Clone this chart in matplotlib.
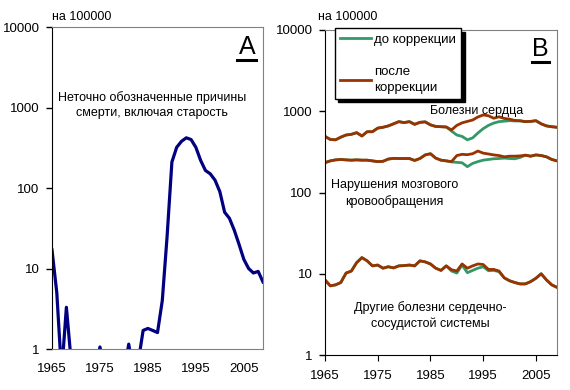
import numpy as np
import matplotlib
matplotlib.use('Agg')
from matplotlib import pyplot as plt
from matplotlib.lines import Line2D

plt.rcParams['font.family'] = ['Liberation Sans', 'DejaVu Sans']
plt.rcParams['font.size'] = 9

years = list(range(1965, 2010))

#Panel A - ill-defined causes incl. old age (values below 1 are off the axis)
ill_defined = [17, 5, 0.5, 3.3, 0.7, 0.5, 0.5, 0.5, 0.5, 0.5,
               1.06, 0.5, 0.5, 0.5, 0.5, 0.5, 1.15, 0.5, 0.7, 1.7,
               1.8, 1.7, 1.6, 4, 25, 210, 320, 380, 420, 400,
               320, 220, 165, 150, 125, 90, 50, 42, 30, 20,
               13, 10, 8.8, 9.2, 6.8]

#Panel B - before / after correction
heart_after = [490, 450, 445, 480, 510, 520, 545, 496, 560, 560,
               620, 635, 660, 700, 745, 725, 745, 690, 730, 740,
               680, 650, 645, 640, 590, 670, 720, 750, 780, 850,
               900, 880, 820, 855, 815, 800, 770, 765, 745, 750,
               765, 700, 660, 645, 635]
heart_before = heart_after[:24] + [570, 510, 490, 445, 470, 540,
               610, 670, 715, 745, 755, 765, 760, 760] + heart_after[38:]

stroke_after = [233, 245, 252, 255, 252, 250, 252, 250, 250, 245,
                240, 242, 258, 263, 262, 262, 262, 248, 262, 290,
                300, 265, 250, 245, 240, 285, 295, 292, 300, 324,
                305, 298, 290, 285, 275, 280, 280, 282, 288, 280,
                290, 285, 275, 255, 245]
stroke_before = stroke_after[:24] + [238, 235, 232, 208, 228, 240,
                250, 255, 260, 262, 265, 262, 260, 270] + stroke_after[38:]

other_after = [8.4, 7.1, 7.3, 7.8, 10.2, 10.8, 13.7, 15.8, 14.4, 12.5,
               12.8, 11.7, 12.2, 11.8, 12.5, 12.6, 12.8, 12.5, 14.4, 14.0,
               13.2, 11.7, 11.0, 12.5, 11.2, 10.8, 13.2, 11.7, 12.5, 13.2,
               13.0, 11.3, 11.3, 10.8, 8.9, 8.2, 7.8, 7.5, 7.5, 8.0,
               8.8, 10.0, 8.4, 7.3, 6.8]
other_before = other_after[:24] + [10.8, 10.2, 12.8, 10.3, 11.0, 11.7,
               12.2, 10.9, 11.0, 10.6] + other_after[34:]

yticks = [1, 10, 100, 1000, 10000]
ytick_labels = ['1', '10', '100', '1000', '10000']
xticks = [1965, 1975, 1985, 1995, 2005]

green = '#339966'
brown = '#993300'
navy = '#000080'

fig = plt.figure(figsize=(5.7, 3.9), dpi=100)
axA = fig.add_axes([52/570, 41/390, 211/570, 322/390])
axB = fig.add_axes([325/570, 35/390, 232/570, 325/390])

for ax in (axA, axB):
    ax.set_yscale('log')
    ax.set_ylim(1, 10000)
    ax.set_xlim(1965, 2009)
    ax.set_yticks(yticks)
    ax.set_yticklabels(ytick_labels)
    ax.yaxis.set_minor_locator(matplotlib.ticker.NullLocator())
    ax.set_xticks(xticks)
    ax.set_xticklabels([str(x) for x in xticks])
    ax.tick_params(axis='y', length=4, width=1, pad=5, labelsize=9.5)
    ax.spines['left'].set_color('black')
    for s in ('top', 'right'):
        ax.spines[s].set_color('#808080')

#Panel A
axA.plot(years, ill_defined, color=navy, lw=2.3, solid_joinstyle='round')
axA.spines['bottom'].set_color('#808080')
axA.tick_params(axis='x', length=0, pad=10, labelsize=9.5)
axA.text(0.475, 0.758, 'Неточно обозначенные причины\nсмерти, включая старость',
         transform=axA.transAxes, ha='center', va='center', linespacing=1.4)
axA.text(0.924, 0.939, 'A', transform=axA.transAxes, ha='center', va='center', fontsize=18)
axA.add_line(Line2D([0.877, 0.967], [0.898, 0.898], transform=axA.transAxes, color='black', lw=2.2))
fig.text(52/570, 1 - 17/390, 'на 100000', ha='left', va='center')

#Panel B
for before, after in ((heart_before, heart_after), (stroke_before, stroke_after), (other_before, other_after)):
    axB.plot(years, before, color=green, lw=2)
    axB.plot(years, after, color=brown, lw=2)
axB.spines['bottom'].set_color('black')
axB.tick_params(axis='x', direction='out', length=4, pad=7, labelsize=9.5)
axB.text(0.655, 0.75, 'Болезни сердца', transform=axB.transAxes, ha='center', va='center')
axB.text(0.30, 0.497, 'Нарушения мозгового\nкровообращения', transform=axB.transAxes,
         ha='center', va='center', linespacing=1.4)
axB.text(0.455, 0.122, 'Другие болезни сердечно-\nсосудистой системы', transform=axB.transAxes,
         ha='center', va='center', linespacing=1.4)
axB.text(0.927, 0.94, 'B', transform=axB.transAxes, ha='center', va='center', fontsize=18)
axB.add_line(Line2D([0.892, 0.966], [0.902, 0.902], transform=axB.transAxes, color='black', lw=2.2))
fig.text(318/570, 1 - 17/390, 'на 100000', ha='left', va='center')

handles = [Line2D([], [], color=green, lw=2), Line2D([], [], color=brown, lw=2)]
leg = axB.legend(handles, ['до коррекции', 'после\nкоррекции'], loc='upper left',
                 bbox_to_anchor=(0.043, 1.006), fancybox=False, framealpha=1,
                 edgecolor='black', handlelength=2.3, handletextpad=0.25,
                 labelspacing=1.55, borderpad=0.4, borderaxespad=0,
                 prop={'size': 9.5},
                 shadow={'color': 'black', 'alpha': 1, 'ox': 2.5, 'oy': -2.5})
for t in leg.get_texts():
    t.set_linespacing(1.4)
leg.get_frame().set_linewidth(1)

fig.savefig('out.png', dpi=100)
